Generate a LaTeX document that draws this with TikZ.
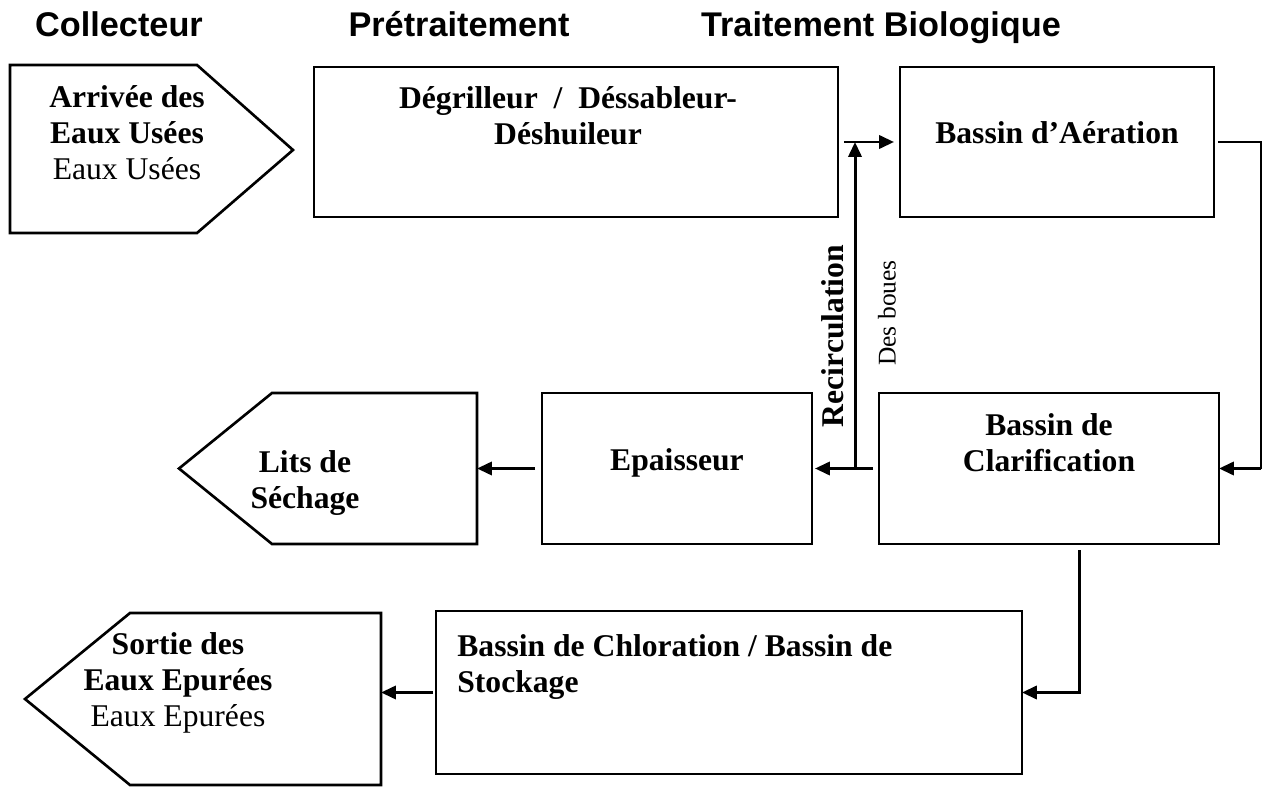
\documentclass[tikz,border=0pt]{standalone}
\usepackage{fontspec}
\setmainfont{Liberation Serif}
\newfontfamily\headfont{Liberation Sans}
\usetikzlibrary{arrows.meta,positioning,calc}
\tikzset{
  outline/.style={draw=black, line width=1.5pt},
  procbox/.style={rectangle, outline, outer sep=0pt, inner sep=0pt},
  boxtext/.style={inner sep=0pt, align=#1, font=\fontsize{18}{20.5}\selectfont\bfseries},
  boxtext/.default=center,
  head/.style={anchor=base, font=\headfont\bfseries\fontsize{19.5}{22}\selectfont},
  arr/.style={-{Triangle[length=8.5pt, width=7.5pt]}, line width=1.7pt, draw=black},
  link/.style={line width=0.9pt, draw=black},
}

\begin{document}
\begin{tikzpicture}[x=0.02cm, y=-0.02cm]
  \useasboundingbox (0,0) rectangle (1262,787);
  % stage headings
  \node[head] (h-coll) at (119,37) {Collecteur};
  \node[head] (h-pret) at (459,37) {Prétraitement};
  \node[head] (h-bio)  at (881,37) {Traitement Biologique};

  % process boxes
  \node[procbox, minimum width=10.48cm, minimum height=3cm]    (degr)  at (576,142)   {};
  \node[procbox, minimum width=6.28cm,  minimum height=3cm]    (aer)   at (1057,142)  {};
  \node[procbox, minimum width=6.8cm,   minimum height=3.02cm] (clar)  at (1049,468.5) {};
  \node[procbox, minimum width=5.4cm,   minimum height=3.02cm] (epai)  at (677,468.5) {};
  \node[procbox, minimum width=11.72cm, minimum height=3.26cm] (chlor) at (729,692.5) {};

  % inlet / outlet arrows
  \draw[outline] (10,65) -- (197,65) -- (293,150) -- (197,233) -- (10,233) -- cycle;
  \draw[outline] (477,393) coordinate (lits-ne) -- (272,393) -- (179,468.5) -- (272,544) -- (477,544) -- cycle;
  \draw[outline] (381,613) coordinate (sortie-ne) -- (130,613) -- (25,699) -- (130,785) -- (381,785) -- cycle;

  % texts
  \node[boxtext] (arr-t)    at (127,133)  {Arrivée des\\Eaux Usées\\{\mdseries Eaux Usées}};
  \node[boxtext] (degr-t)   at (568,116)  {Dégrilleur \ / \ Déssableur-\\Déshuileur};
  \node[boxtext] (aer-t)    at (1057,133) {Bassin d’Aération};
  \node[boxtext] (clar-t)   at (1049,443) {Bassin de\\Clarification};
  \node[boxtext] (epai-t)   at (677,463)  {Epaisseur};
  \node[boxtext] (lits-t)   at (305,483)  {Lits de\\Séchage};
  \node[boxtext=left, anchor=west] (chlor-t) at (457,667) {Bassin de Chloration / Bassin de\\Stockage};
  \node[boxtext] (sortie-t) at (178,683)  {Sortie des\\Eaux Epurées\\{\mdseries Eaux Epurées}};
  \node[boxtext, rotate=90] (recirc-t) at (833,336) {Recirculation};
  \node[inner sep=0pt, rotate=90, font=\fontsize{14.5}{16}\selectfont] (boues-t) at (887,313) {Des boues};

  % pretreatment to aeration
  \draw[arr] ([xshift=0.12cm]degr.east) -- ([xshift=-0.12cm]aer.west);
  % aeration to clarification
  \coordinate (ret-top) at (1261,142);
  \draw[link] ([xshift=0.08cm]aer.east) -- (ret-top) -- (ret-top |- clar.east);
  \draw[arr] (ret-top |- clar.east) -- (clar.east);
  % sludge line
  \draw[arr] ([xshift=-0.12cm]clar.west) -- ([xshift=0.06cm]epai.east);
  \draw[arr] ([xshift=-0.14cm]epai.west) -- (lits-ne |- epai.west);
  % recirculation
  \coordinate (recirc) at (855,468.5);
  \draw[arr] (recirc) -- (recirc |- aer.west);
  % treated water
  \coordinate (clar-out) at (1079,550);
  \draw[arr] (clar-out) |- (chlor.east);
  \draw[arr] ([xshift=-0.06cm]chlor.west) -- (sortie-ne |- chlor.west);
\end{tikzpicture}
\end{document}
